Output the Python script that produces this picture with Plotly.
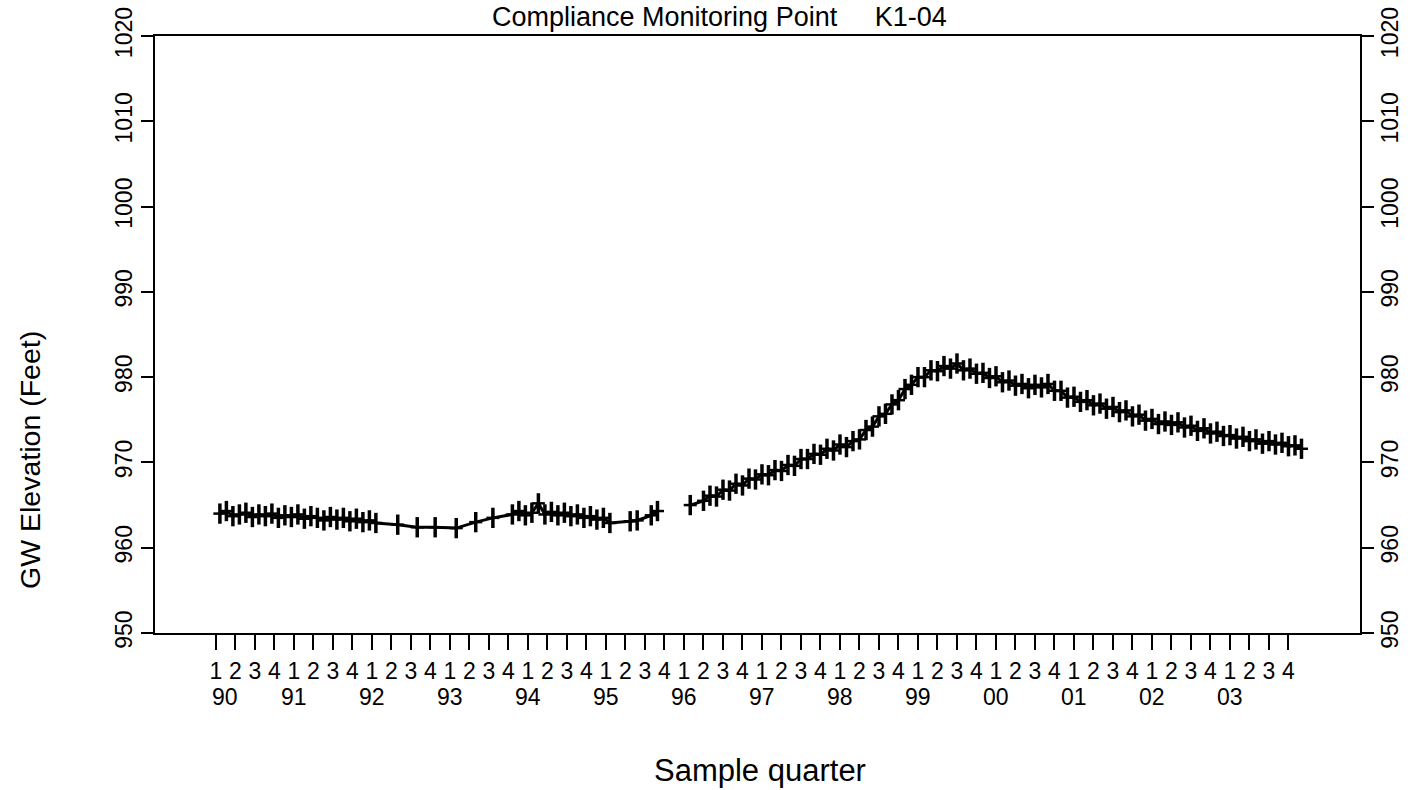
import plotly.graph_objects as go

# ---------------- data (decimal years, GW elevation in feet) ----------------
# Segment A: monthly 1990-1991
seg_a_start = 1990.05
seg_a_vals = [964.0, 964.3, 963.7, 963.9, 964.1, 963.6, 963.9, 963.7, 964.0, 963.5, 963.8, 963.6,
              963.9, 963.4, 963.7, 963.5, 963.2, 963.6, 963.3, 963.5, 963.1, 963.4, 963.0, 963.2]
# Segment B: quarterly 1992-1993
seg_b_x = [1992.05, 1992.33, 1992.58, 1992.81, 1993.08, 1993.33, 1993.55]
seg_b_vals = [962.9, 962.7, 962.4, 962.4, 962.3, 963.0, 963.5]
# Segment C: monthly late 1993 - early 1995
seg_c_start = 1993.80
seg_c_vals = [963.9, 964.3, 963.8, 964.1, 965.2, 963.9, 964.2, 963.8, 964.1, 963.7, 963.9, 963.5,
              963.7, 963.3, 963.5, 962.9]
# Segment D: sparse 1995
seg_d_x = [1995.31, 1995.40, 1995.58, 1995.66]
seg_d_vals = [963.1, 963.2, 963.8, 964.3]
# Segment E: 1996 Q1 single, then monthly 1996-2003
seg_e0_x = [1996.08]
seg_e0_vals = [965.0]
seg_e_start = 1996.25
seg_e_vals = [965.5, 966.1, 966.0, 966.8, 966.7, 967.5, 967.3, 968.1, 968.0, 968.6, 968.5, 969.1,
              969.0, 969.7, 969.6, 970.4, 970.4, 971.0, 970.9, 971.6, 971.4, 972.1, 971.8, 972.5,
              972.7, 973.8, 974.2, 975.4, 975.7, 976.8, 977.3, 978.6, 979.1, 980.0, 980.0, 980.8,
              980.7, 981.3, 981.0, 981.6, 980.8, 981.0, 980.4, 980.5, 979.9, 980.1, 979.4, 979.6,
              979.0, 979.2, 978.7, 979.1, 978.8, 979.2, 978.4, 978.4, 977.6, 977.7, 977.1, 977.3,
              976.7, 976.9, 976.3, 976.5, 975.9, 976.1, 975.4, 975.6, 974.9, 975.1, 974.5, 974.8,
              974.4, 974.7, 974.1, 974.3, 973.7, 974.0, 973.4, 973.6, 973.1, 973.2, 972.8, 973.0,
              972.5, 972.7, 972.2, 972.5, 972.1, 972.3, 971.9, 972.0, 971.6]

years = list(range(1990, 2004))
year_labels = ["90", "91", "92", "93", "94", "95", "96", "97", "98", "99", "00", "01", "02", "03"]
quarter_labels = ["1", "2", "3", "4"]
y_ticks = [950, 960, 970, 980, 990, 1000, 1010, 1020]

title_text = "Compliance Monitoring Point\u00a0\u00a0\u00a0\u00a0\u00a0K1-04"
x_title = "Sample quarter"
y_title = "GW Elevation (Feet)"


def monthly(start, vals):
    return [start + i / 12.0 for i in range(len(vals))]


xs = (monthly(seg_a_start, seg_a_vals) + seg_b_x + monthly(seg_c_start, seg_c_vals) + seg_d_x
      + [None] + seg_e0_x + monthly(seg_e_start, seg_e_vals))
ys = (seg_a_vals + seg_b_vals + seg_c_vals + seg_d_vals + [None] + seg_e0_vals + seg_e_vals)

tick_vals = [y + q * 0.25 for y in years for q in range(4)]
tick_text = [quarter_labels[q] for y in years for q in range(4)]

FONT = "Liberation Sans, Arial, Helvetica, sans-serif"
TICK_SIZE = 23

fig = go.Figure()
fig.add_trace(go.Scatter(x=xs, y=ys, mode="lines", connectgaps=False,
                         line=dict(color="black", width=3), hoverinfo="skip", showlegend=False))
fig.add_trace(go.Scatter(x=xs, y=ys, mode="markers",
                         marker=dict(symbol="line-ns", size=14.5, color="black",
                                     line=dict(color="black", width=3.5)),
                         showlegend=False))
fig.add_trace(go.Scatter(x=xs, y=ys, mode="markers", yaxis="y2",
                         marker=dict(symbol="line-ew", size=9.3, color="black",
                                     line=dict(color="black", width=2.5)),
                         showlegend=False))

axis_common = dict(showgrid=False, zeroline=False, ticks="outside", tickcolor="black",
                   tickwidth=2, linecolor="black", linewidth=2, showline=True,
                   automargin=False,
                   tickfont=dict(family=FONT, size=TICK_SIZE, color="black"))

fig.update_layout(
    width=1423, height=790,
    margin=dict(l=155, r=63, t=36, b=157, pad=0),
    paper_bgcolor="white", plot_bgcolor="white",
    font=dict(family=FONT, color="black"),
    xaxis=dict(range=[1989.218, 2004.667], tickmode="array", tickvals=tick_vals,
               ticktext=tick_text, ticklen=15, mirror=True, ticklabelstandoff=1,
               **axis_common),
    yaxis=dict(range=[950, 1020], tickmode="array", tickvals=y_ticks, ticklen=12,
               tickangle=-90, ticklabelstandoff=0, **axis_common),
    yaxis2=dict(range=[950, 1020], tickmode="array", tickvals=y_ticks, ticklen=12,
                tickangle=-90, overlaying="y", side="right", anchor="x", ticklabelstandoff=-4,
                **axis_common),
)

ann = []
ann.append(dict(text=title_text, xref="paper", yref="paper", x=(719 - 155) / 1205, y=1,
                xanchor="center", yanchor="middle", yshift=19, showarrow=False,
                font=dict(family=FONT, size=27, color="black")))
ann.append(dict(text=x_title, xref="paper", yref="paper", x=(760 - 155) / 1205, y=0,
                xanchor="center", yanchor="middle", yshift=-137, showarrow=False,
                font=dict(family=FONT, size=31, color="black")))
ann.append(dict(text=y_title, xref="paper", yref="paper", x=0, y=(633 - 460) / 597,
                xanchor="center", yanchor="middle", xshift=-125, textangle=-90, showarrow=False,
                font=dict(family=FONT, size=28.5, color="black")))
for i, (yr, lab) in enumerate(zip(years, year_labels)):
    ann.append(dict(text=lab, xref="x", yref="paper", x=yr, y=0, xanchor="center",
                    yanchor="middle", yshift=-64, xshift=9 if i == 0 else 0, showarrow=False,
                    font=dict(family=FONT, size=TICK_SIZE, color="black")))
fig.update_layout(annotations=ann)

fig.write_html("out.html")
